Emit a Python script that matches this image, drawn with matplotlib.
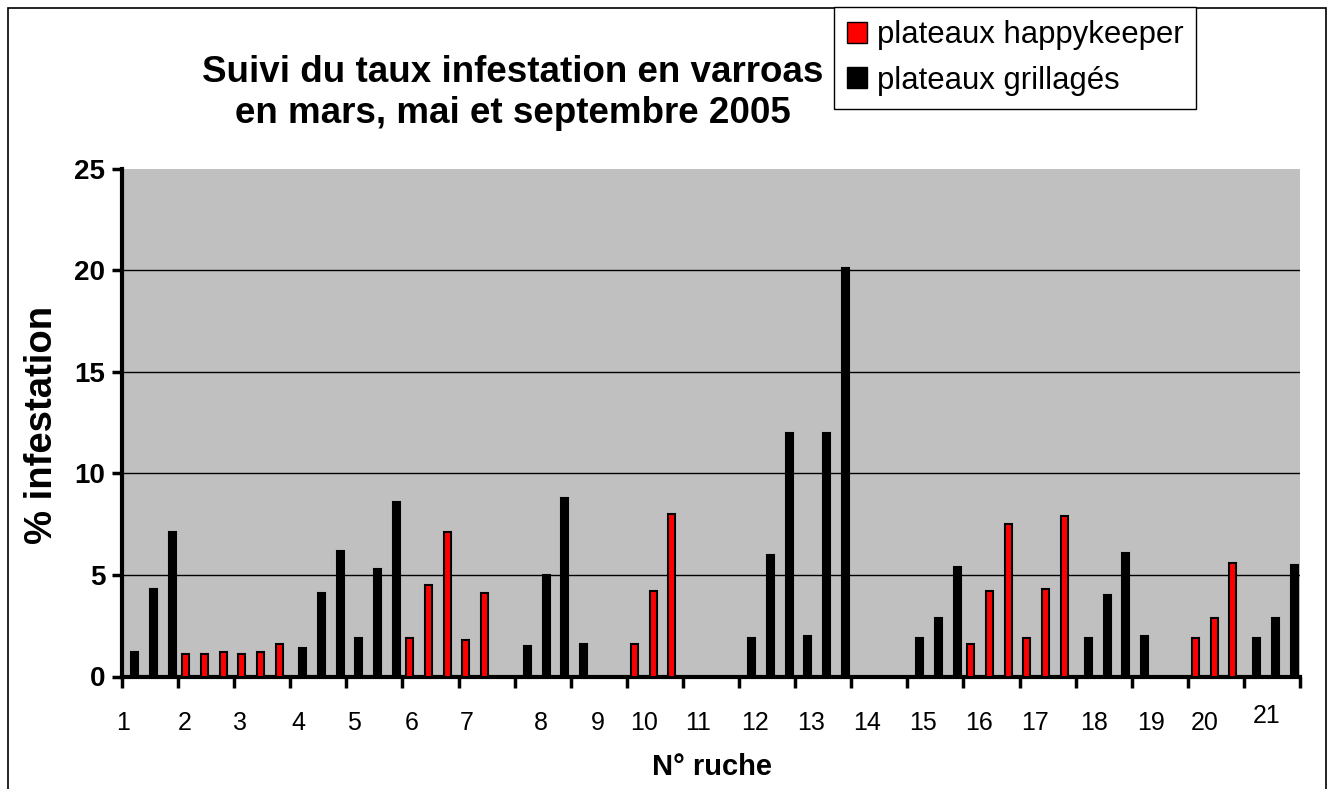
import numpy as np
import matplotlib
matplotlib.use("Agg")
import matplotlib.pyplot as plt
from matplotlib.patches import Patch, Rectangle
from matplotlib.transforms import ScaledTranslation

plt.rcParams['font.family'] = ['Liberation Sans', 'DejaVu Sans']

# data: % infestation per hive, 3 counts (mars, mai, septembre)
hives = [str(i) for i in range(1, 22)]
plateau = ['G', 'H', 'H', 'G', 'G', 'H', 'H', 'G', 'G', 'H', 'G',
           'G', 'G', 'G', 'G', 'H', 'H', 'G', 'G', 'H', 'G']
mars = [1.2, 1.1, 1.1, 1.4, 1.9, 1.9, 1.8, 1.5, 1.6, 1.6, 0,
        1.9, 2.0, 0, 1.9, 1.6, 1.9, 1.9, 2.0, 1.9, 1.9]
mai = [4.3, 1.1, 1.2, 4.1, 5.3, 4.5, 4.1, 5.0, 0, 4.2, 0,
       6.0, 12.0, 0, 2.9, 4.2, 4.3, 4.0, 0, 2.9, 2.9]
septembre = [7.1, 1.2, 1.6, 6.2, 8.6, 7.1, 0, 8.8, 0, 8.0, 0,
             12.0, 20.1, 0, 5.4, 7.5, 7.9, 6.1, 0, 5.6, 5.5]
legend_labels = {'H': 'plateaux happykeeper', 'G': 'plateaux grillagés'}
colors = {'H': '#FF0000', 'G': '#000000'}

# where Excel put the hive numbers (category units, not centred)
label_x = [0.02, 1.11, 2.10, 3.14, 4.13, 5.16, 6.15, 7.47, 8.48, 9.30, 10.27,
           11.28, 12.29, 13.28, 14.28, 15.27, 16.27, 17.33, 18.34, 19.30, 20.41]

fig = plt.figure(figsize=(13.34, 7.89), dpi=100)
W, H = 1334, 789

# outer frame of the chart
fig.add_artist(Rectangle((8 / W, -0.05), (1326 - 8) / W, 1.05 - 8 / H,
                         transform=fig.transFigure, fill=False,
                         edgecolor='black', linewidth=1.2))

ax = fig.add_axes([122 / W, 1 - 676.5 / H, (1300 - 122) / W, (676.5 - 168.7) / H])
ax.set_facecolor('#C0C0C0')

x = np.arange(len(hives))
shift = np.where(np.array(plateau) == 'H', 0.093, 0.0)
bar_cols = [colors[p] for p in plateau]
for m, vals in enumerate([mars, mai, septembre]):
    pos = x + 0.223 + 0.337 * m - shift
    ax.bar(pos, vals, width=0.125, color=bar_cols, edgecolor='black',
           linewidth=1.5, zorder=3)

ax.set_xlim(0, 21)
ax.set_ylim(0, 25)
ax.set_yticks(np.arange(0, 26, 5))
ax.grid(axis='y', color='black', linewidth=1, zorder=1)
ax.set_axisbelow(True)
ax.yaxis.get_gridlines()[-1].set_visible(False)

for s in ['top', 'right']:
    ax.spines[s].set_visible(False)
for s in ['left', 'bottom']:
    ax.spines[s].set_linewidth(3)

ax.tick_params(axis='y', length=7, width=2.5, pad=5, labelsize=20)
for lab in ax.get_yticklabels():
    lab.set_fontweight('bold')

ax.set_xticks(np.arange(22))
ax.set_xticklabels([])
ax.tick_params(axis='x', which='major', length=8, width=2.5)
ax.set_xticks(label_x, hives, minor=True)
ax.tick_params(axis='x', which='minor', length=0, pad=25, labelsize=18)
last = ax.xaxis.get_minor_ticks()[-1].label1
last.set_transform(last.get_transform() + ScaledTranslation(0, 0.07, fig.dpi_scale_trans))

fig.text(513 / W, 1 - 93 / H, "Suivi du taux infestation en varroas\nen mars, mai et septembre 2005",
         ha='center', va='center', fontsize=26.5, fontweight='bold', linespacing=1.25)
fig.text(42 / W, 1 - 425 / H, "% infestation", rotation=90, ha='center', va='center',
         fontsize=27.5, fontweight='bold')
fig.text(712 / W, 1 - 767 / H, "N° ruche", ha='center', va='center',
         fontsize=21, fontweight='bold')

handles = [Patch(facecolor=colors[k], edgecolor='black', linewidth=1) for k in ['H', 'G']]
fig.legend(handles, [legend_labels['H'], legend_labels['G']],
           loc='upper left', bbox_to_anchor=(834 / W, 1 - 7 / H), fontsize=22.4,
           frameon=True, fancybox=False, shadow=False, edgecolor='black',
           framealpha=1, handlelength=0.65, handleheight=0.65, handletextpad=0.3,
           labelspacing=0.5, borderpad=0.42, borderaxespad=0)

fig.savefig('out.png', dpi=100)
